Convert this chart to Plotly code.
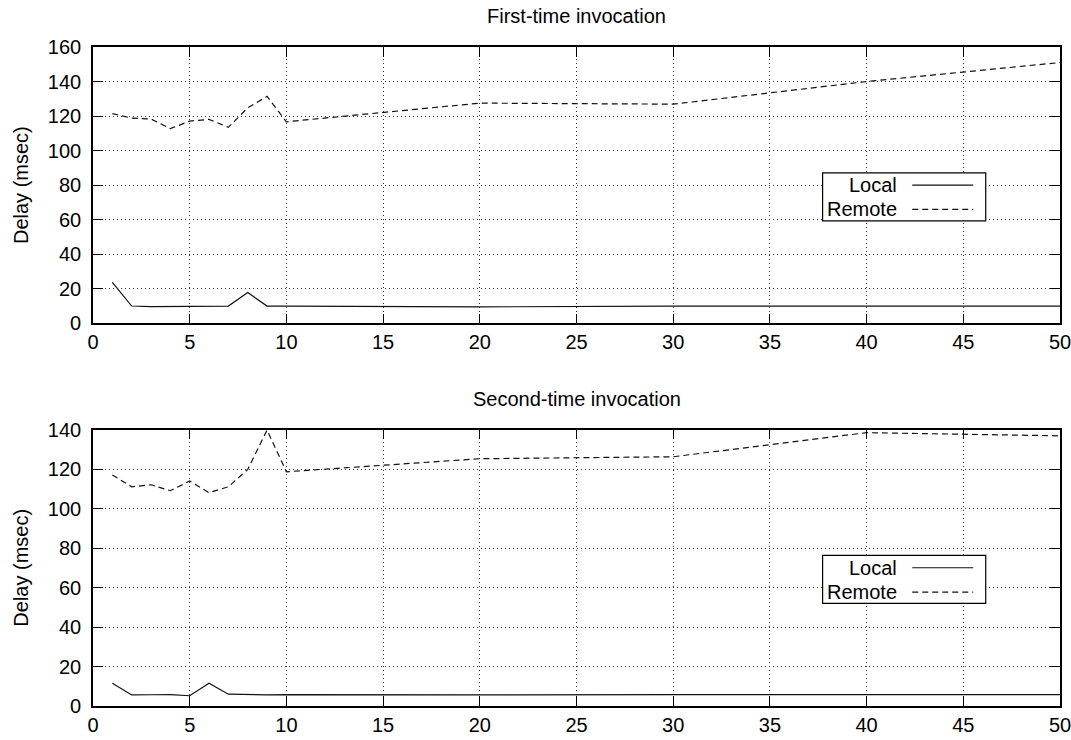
import plotly.graph_objects as go
from plotly.subplots import make_subplots

x_vals = [1, 2, 3, 4, 5, 6, 7, 8, 9, 10, 20, 30, 40, 50]

first_local = [23.7, 10.0, 9.6, 9.8, 10.0, 10.0, 10.0, 17.8, 10.0, 10.0, 9.5, 10.0, 10.0, 10.0]
first_remote = [121.4, 118.8, 118.3, 112.7, 117.1, 118.1, 113.5, 124.8, 131.4, 116.7, 127.5, 126.9, 140.0, 151.0]

second_local = [11.5, 5.6, 5.7, 5.8, 5.2, 11.5, 6.0, 5.8, 5.6, 5.8, 5.6, 5.8, 5.8, 5.8]
second_remote = [117.0, 111.0, 112.0, 109.0, 113.9, 108.0, 111.0, 119.8, 139.7, 118.6, 125.2, 126.2, 138.4, 136.8]

titles = ["First-time invocation", "Second-time invocation"]
y_ranges = [[0, 160], [0, 140]]
x_ticks = [0, 5, 10, 15, 20, 25, 30, 35, 40, 45, 50]

FONT = "Liberation Sans, Arial, Helvetica, sans-serif"
FS = 20
LINE_COLOR = "#111111"

fig = make_subplots(rows=2, cols=1, vertical_spacing=0.0)

series = [(first_local, first_remote), (second_local, second_remote)]
for i, (loc, rem) in enumerate(series, start=1):
    fig.add_trace(go.Scatter(x=x_vals, y=loc, mode="lines", name="Local",
                             line=dict(color=LINE_COLOR, width=1.2), showlegend=False),
                  row=i, col=1)
    fig.add_trace(go.Scatter(x=x_vals, y=rem, mode="lines", name="Remote",
                             line=dict(color=LINE_COLOR, width=1.2, dash="6px,4px"), showlegend=False),
                  row=i, col=1)

H = 740
t, b = 47, 34
ph = H - t - b
top_bottom = (706 - 323.3) / ph
bot_top = (706 - 429.5) / ph

axis_common = dict(
    showline=True, linecolor="black", linewidth=1.6, mirror="ticks",
    ticks="inside", ticklen=10, tickwidth=1.4, tickcolor="black",
    showgrid=True, gridcolor="#333333", griddash="1px,3px", gridwidth=1,
    zeroline=False, tickfont=dict(family=FONT, size=FS, color="black"),
    automargin=False, ticklabeloverflow="allow",
)

for i in (1, 2):
    xa = "xaxis" if i == 1 else "xaxis2"
    ya = "yaxis" if i == 1 else "yaxis2"
    fig.layout[xa].update(range=[0, 50], tickvals=x_ticks, ticklabelstandoff=0, **axis_common)
    fig.layout[ya].update(range=y_ranges[i - 1], dtick=20, ticklabelstandoff=6,
                          title=dict(text="Delay (msec)", font=dict(family=FONT, size=FS, color="black"),
                                     standoff=14),
                          **axis_common)

fig.layout.yaxis.domain = [top_bottom, 1.0]
fig.layout.yaxis2.domain = [0.0, bot_top]

shapes = []
annotations = []
for i in (1, 2):
    xd = "x domain" if i == 1 else "x2 domain"
    yd = "y domain" if i == 1 else "y2 domain"
    annotations.append(dict(text=titles[i - 1], xref=xd, yref=yd, x=0.5, y=1.0,
                            xanchor="center", yanchor="middle", yshift=31, showarrow=False,
                            font=dict(family=FONT, size=FS, color="black")))
    shapes.append(dict(type="rect", xref=xd, yref=yd, x0=0.7545, x1=0.9232, y0=0.3709, y1=0.5445,
                       line=dict(color="black", width=1.2), fillcolor="white", layer="above"))
    for name, yy, dash in (("Local", 0.500, "solid"), ("Remote", 0.412, "6px,4px")):
        annotations.append(dict(text=name, xref=xd, yref=yd, x=0.8334, y=yy,
                                xanchor="right", yanchor="middle", showarrow=False,
                                font=dict(family=FONT, size=FS, color="black")))
        shapes.append(dict(type="line", xref=xd, yref=yd, x0=0.8472, x1=0.9103, y0=yy, y1=yy,
                           line=dict(color=LINE_COLOR, width=1.2, dash=dash), layer="above"))

fig.update_layout(
    width=1071, height=740,
    margin=dict(l=93, r=11, t=t, b=b, autoexpand=False),
    paper_bgcolor="white", plot_bgcolor="white",
    font=dict(family=FONT, size=FS, color="black"),
    shapes=shapes, annotations=annotations, showlegend=False,
)

fig.write_html("out.html")
